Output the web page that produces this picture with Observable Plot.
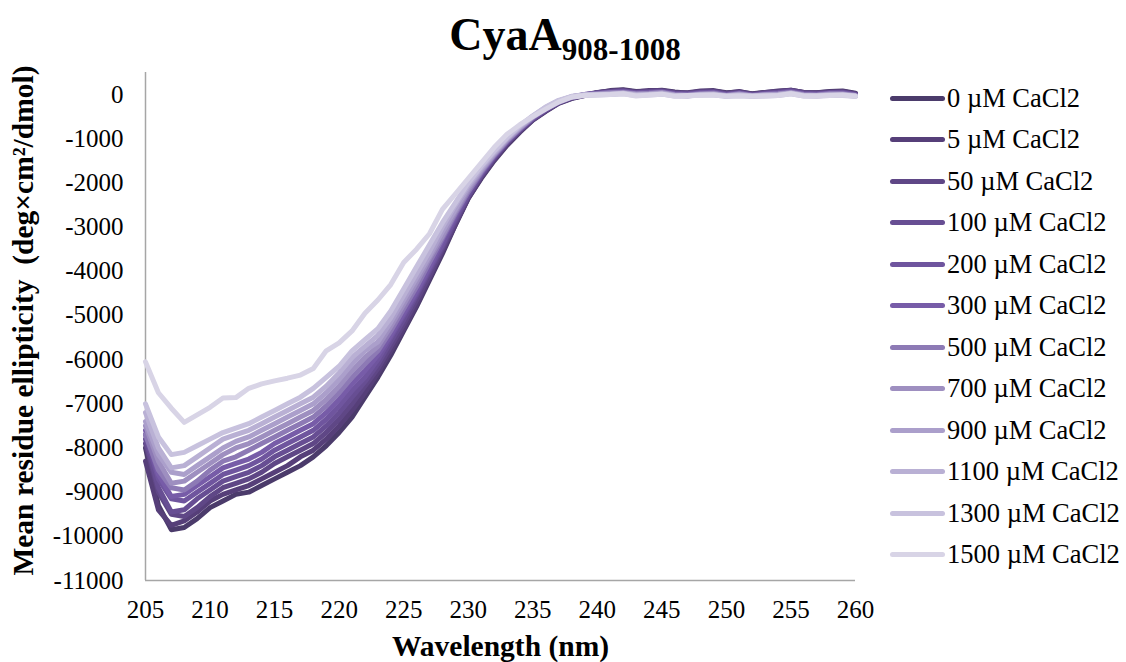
<!DOCTYPE html>
<html>
<head>
<meta charset="utf-8">
<script src="https://cdn.jsdelivr.net/npm/d3@7"></script>
<script src="https://cdn.jsdelivr.net/npm/@observablehq/plot@0.6"></script>
<style>
  html, body { margin: 0; padding: 0; background: #fff; }
  #wrap { position: relative; width: 1126px; height: 662px; font-family: "Liberation Serif", "Times New Roman", serif; color: #000; overflow: hidden; }
  #title { position: absolute; left: 0; top: 0; width: 1126px; height: 60px; text-align: center; font-weight: bold; font-size: 46px; line-height: 1; z-index: 2; }
  #title .main { position: relative; top: 12px; left: 2px; }
  #title sub { font-size: 31px; vertical-align: baseline; position: relative; top: 10px; }
  #chart { position: absolute; left: 0; top: 60px; z-index: 1; }
  #legend { position: absolute; left: 890px; top: 0; z-index: 2; }
  .item { position: absolute; left: 0; height: 30px; white-space: nowrap; font-size: 26.5px; }
  .item .sw { position: absolute; left: 0; top: 13px; width: 55px; height: 5px; border-radius: 3px; }
  .item .tx { position: absolute; left: 57px; top: 0; line-height: 30px; }
</style>
</head>
<body>
<div id="wrap">
  <div id="title"><span class="main">CyaA<sub>908-1008</sub></span></div>
  <div id="chart"></div>
  <div id="legend"></div>
</div>
<script>
const wavelengths = [205,206,207,208,209,210,211,212,213,214,215,216,217,218,219,220,221,222,223,224,225,226,227,228,229,230,231,232,233,234,235,236,237,238,239,240,241,242,243,244,245,246,247,248,249,250,251,252,253,254,255,256,257,258,259,260];

const seriesLabels = ["0 µM CaCl2","5 µM CaCl2","50 µM CaCl2","100 µM CaCl2","200 µM CaCl2","300 µM CaCl2","500 µM CaCl2","700 µM CaCl2","900 µM CaCl2","1100 µM CaCl2","1300 µM CaCl2","1500 µM CaCl2"];
const seriesColors = ["#4b3b6b","#563f79","#5f4786","#674e93","#6f559e","#775ca8","#8d7ab5","#9e8fc0","#ab9fcb","#b9b0d4","#c8c2de","#d8d4e6"];

const ca0 = [-8000,-9300,-9850,-9800,-9600,-9350,-9200,-9050,-9000,-8850,-8700,-8550,-8400,-8200,-7950,-7650,-7300,-6850,-6400,-5900,-5350,-4800,-4200,-3600,-2950,-2350,-1900,-1500,-1150,-850,-580,-380,-200,-90,-20,40,90,110,70,80,100,60,30,70,90,40,60,20,50,70,100,50,40,70,80,30];
const ca5 = [-8300,-9400,-9750,-9650,-9450,-9200,-9050,-8950,-8850,-8700,-8550,-8400,-8200,-8050,-7800,-7500,-7150,-6750,-6300,-5800,-5300,-4750,-4150,-3550,-2950,-2350,-1880,-1480,-1130,-830,-570,-370,-190,-80,-10,50,80,100,60,90,90,50,40,80,80,30,70,10,50,80,100,50,40,60,70,20];
const ca50 = [-7900,-9000,-9500,-9550,-9350,-9100,-8900,-8800,-8700,-8550,-8350,-8200,-8050,-7900,-7650,-7350,-7000,-6600,-6200,-5700,-5200,-4650,-4100,-3500,-2900,-2300,-1850,-1450,-1100,-820,-560,-360,-190,-80,-20,40,70,90,50,70,80,40,30,60,70,20,50,0,40,60,90,40,30,50,60,10];
const ca100 = [-7800,-8900,-9450,-9400,-9150,-8950,-8750,-8650,-8550,-8400,-8200,-8050,-7900,-7750,-7500,-7200,-6850,-6500,-6100,-5600,-5100,-4550,-4000,-3450,-2850,-2300,-1830,-1430,-1090,-800,-550,-350,-180,-70,-10,30,60,80,40,60,70,30,20,50,60,10,40,-10,30,50,80,30,20,40,50,0];
const ca200 = [-7700,-8700,-9150,-9200,-9000,-8800,-8600,-8500,-8400,-8250,-8050,-7900,-7750,-7600,-7350,-7050,-6700,-6400,-6000,-5500,-5000,-4500,-3950,-3400,-2800,-2250,-1800,-1410,-1070,-790,-540,-340,-170,-60,0,30,50,70,30,50,60,20,10,40,50,0,30,-10,20,40,70,20,10,30,40,-10];
const ca300 = [-7600,-8600,-9100,-9050,-8850,-8650,-8450,-8350,-8250,-8100,-7900,-7750,-7600,-7450,-7200,-6900,-6550,-6250,-5900,-5450,-4950,-4450,-3900,-3300,-2750,-2200,-1780,-1400,-1060,-780,-530,-330,-170,-60,0,20,50,60,30,40,60,10,0,30,40,-10,30,-20,10,30,60,10,0,30,30,-10];
const ca500 = [-7700,-8500,-8900,-8950,-8750,-8500,-8300,-8200,-8050,-7900,-7750,-7600,-7450,-7300,-7050,-6750,-6400,-6100,-5800,-5350,-4850,-4350,-3800,-3250,-2700,-2200,-1760,-1380,-1050,-770,-520,-320,-160,-50,0,20,40,50,20,30,50,0,-10,20,30,-20,20,-20,0,20,50,0,-10,20,20,-20];
const ca700 = [-7500,-8300,-8800,-8750,-8550,-8350,-8150,-8000,-7900,-7750,-7600,-7450,-7300,-7150,-6900,-6600,-6250,-5950,-5700,-5250,-4750,-4250,-3700,-3200,-2650,-2150,-1730,-1360,-1030,-760,-510,-310,-150,-50,-10,10,30,40,10,20,40,-10,-20,10,20,-20,10,-30,0,10,40,-10,-20,10,10,-20];
const ca900 = [-7400,-8150,-8550,-8600,-8400,-8200,-8000,-7850,-7750,-7600,-7450,-7300,-7150,-7000,-6750,-6450,-6100,-5800,-5600,-5150,-4650,-4150,-3650,-3100,-2600,-2100,-1700,-1340,-1010,-740,-500,-300,-150,-50,-10,0,20,30,0,10,30,-20,-20,0,10,-30,0,-30,-10,0,30,-20,-20,0,0,-30];
const ca1100 = [-7200,-8000,-8450,-8400,-8200,-8000,-7800,-7700,-7600,-7450,-7300,-7150,-7000,-6850,-6600,-6300,-5950,-5700,-5450,-5050,-4550,-4050,-3550,-3000,-2500,-2050,-1660,-1310,-990,-720,-490,-290,-140,-50,-10,0,10,30,-10,0,20,-20,-30,0,0,-30,-10,-40,-20,-10,30,-20,-30,-10,-10,-30];
const ca1300 = [-7000,-7750,-8150,-8100,-7950,-7800,-7650,-7550,-7450,-7300,-7150,-7000,-6850,-6650,-6400,-6150,-5800,-5550,-5300,-4900,-4400,-3900,-3400,-2900,-2450,-2000,-1620,-1280,-970,-700,-480,-280,-130,-40,-10,-10,0,20,-20,-10,10,-30,-30,-10,-10,-40,-20,-40,-30,-20,20,-30,-30,-20,-20,-40];
const ca1500 = [-6050,-6750,-7100,-7420,-7250,-7080,-6870,-6860,-6650,-6550,-6480,-6420,-6350,-6200,-5800,-5620,-5350,-4950,-4650,-4300,-3800,-3500,-3150,-2600,-2250,-1900,-1550,-1200,-900,-680,-500,-330,-170,-60,-20,-10,0,20,-30,-10,10,-40,-20,-20,-10,-40,-30,-40,-30,-20,20,-30,-30,-20,-10,-40];

const seriesValues = [ca0, ca5, ca50, ca100, ca200, ca300, ca500, ca700, ca900, ca1100, ca1300, ca1500];

const xTicks = [205,210,215,220,225,230,235,240,245,250,255,260];
const yTicks = [0,-1000,-2000,-3000,-4000,-5000,-6000,-7000,-8000,-9000,-10000,-11000];

const rows = [];
seriesValues.forEach((vals, i) => {
  vals.forEach((v, j) => rows.push({wl: wavelengths[j], value: v, series: seriesLabels[i]}));
});

const chart = Plot.plot({
  width: 880,
  height: 602,
  marginLeft: 145,
  marginRight: 25,
  marginTop: 12,
  marginBottom: 82,
  style: {fontFamily: "'Liberation Serif', 'Times New Roman', serif", fontSize: "25px", color: "#000", background: "transparent", overflow: "visible"},
  x: {domain: [205, 260]},
  y: {domain: [-11000, 500]},
  color: {domain: seriesLabels, range: seriesColors},
  marks: [
    Plot.axisX({ticks: xTicks, tickSize: 0, tickPadding: 20, tickFormat: d => String(d), label: null, fontSize: 25}),
    Plot.axisY({ticks: yTicks, tickSize: 0, tickPadding: 22, tickFormat: d => String(d), label: null, fontSize: 25}),
    Plot.ruleX([205], {stroke: "#a6a6a6", strokeWidth: 1.5}),
    Plot.ruleY([-11000], {stroke: "#a6a6a6", strokeWidth: 1.5}),
    Plot.line(rows, {x: "wl", y: "value", z: "series", stroke: "series", strokeWidth: 5, strokeLinejoin: "round", strokeLinecap: "round"}),
    Plot.text(["Mean residue ellipticity  (deg×cm²/dmol)"], {frameAnchor: "left", textAnchor: "middle", rotate: -90, dx: -122, dy: -6, fontWeight: "bold", fontSize: 29.5}),
    Plot.text(["Wavelength (nm)"], {frameAnchor: "bottom", dy: 75, fontWeight: "bold", fontSize: 29.5})
  ]
});
document.getElementById("chart").appendChild(chart);

const legend = document.getElementById("legend");
seriesLabels.forEach((lab, i) => {
  const item = document.createElement("div");
  item.className = "item";
  item.style.top = (82.5 + i * 41.5) + "px";
  const sw = document.createElement("div");
  sw.className = "sw";
  sw.style.background = seriesColors[i];
  const tx = document.createElement("div");
  tx.className = "tx";
  tx.textContent = lab;
  item.appendChild(sw);
  item.appendChild(tx);
  legend.appendChild(item);
});
</script>
</body>
</html>
